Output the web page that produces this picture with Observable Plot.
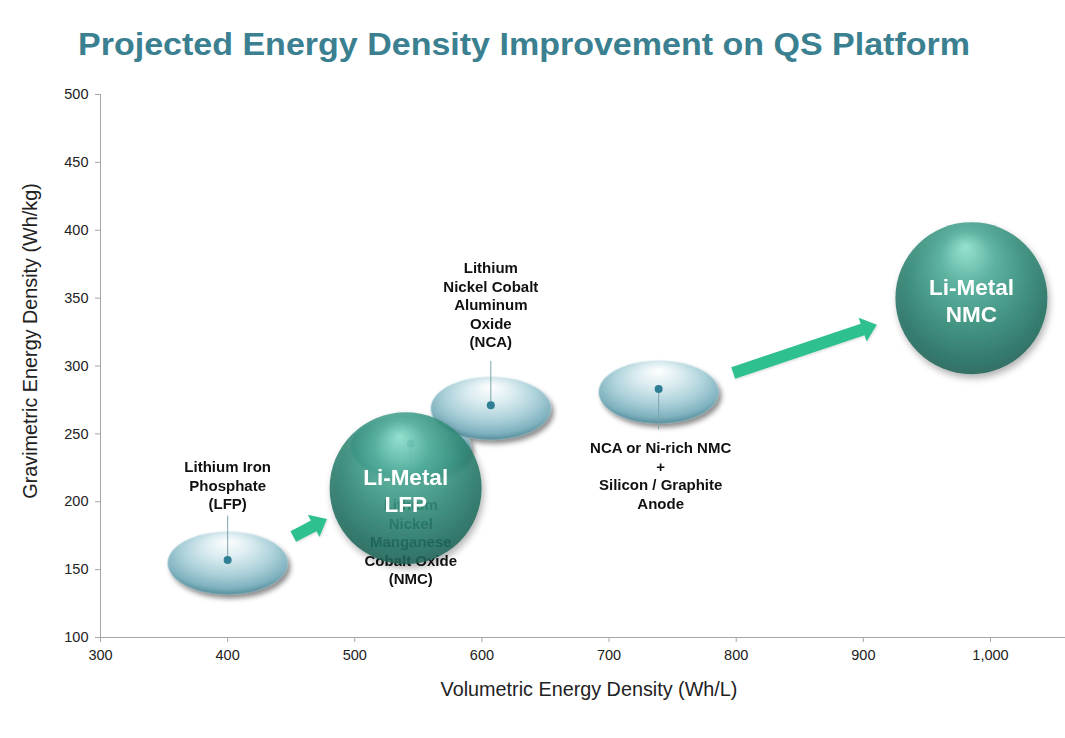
<!DOCTYPE html>
<html>
<head>
<meta charset="utf-8">
<script src="https://cdn.jsdelivr.net/npm/d3@7"></script>
<script src="https://cdn.jsdelivr.net/npm/@observablehq/plot@0.6"></script>
<style>
  html, body { margin: 0; padding: 0; background: #fff; }
  body { width: 1065px; height: 738px; position: relative; overflow: hidden; font-family: "Liberation Sans", Arial, sans-serif; }
  #title { position: absolute; left: 78px; top: 27px; font: bold 30.5px "Liberation Sans", Arial, sans-serif; color: #3a8090; white-space: nowrap; transform-origin: left top; }
  #chart { position: absolute; left: 0; top: 80px; }
</style>
</head>
<body>
<div id="title">Projected Energy Density Improvement on QS Platform</div>
<div id="chart"></div>
<script>
// ---- data ----
const xTicks = [300, 400, 500, 600, 700, 800, 900, 1000];
const yTicks = [100, 150, 200, 250, 300, 350, 400, 450, 500];
const xLabel = "Volumetric Energy Density (Wh/L)";
const yLabel = "Gravimetric Energy Density (Wh/kg)";

const chemistries = ["LFP", "NMC", "NCA", "NCA or Ni-rich NMC + Si/Graphite"];
const chemVolumetric = [400, 544, 607, 739];
const chemGravimetric = [157, 243, 271, 283];
const chemLabels = [
  "Lithium Iron\nPhosphate\n(LFP)",
  "Lithium\nNickel\nManganese\nCobalt Oxide\n(NMC)",
  "Lithium\nNickel Cobalt\nAluminum\nOxide\n(NCA)",
  "NCA or Ni-rich NMC\n+\nSilicon / Graphite\nAnode"
];

const liMetalLabels = ["Li-Metal\nLFP", "Li-Metal\nNMC"];
const liMetalVolumetric = [540, 985];
const liMetalGravimetric = [210, 350];

const arrowFromVolumetric = [452, 798];
const arrowFromGravimetric = [174, 294.5];
const arrowToVolumetric = [478.5, 911];
const arrowToGravimetric = [187, 330];

// ---- tables ----
const chem = chemistries.map((name, i) => ({name, x: chemVolumetric[i], y: chemGravimetric[i], label: chemLabels[i]}));
const liMetal = liMetalLabels.map((label, i) => ({label, x: liMetalVolumetric[i], y: liMetalGravimetric[i]}));
const arrows = arrowFromVolumetric.map((x1, i) => ({x1, y1: arrowFromGravimetric[i], x2: arrowToVolumetric[i], y2: arrowToGravimetric[i]}));

function ellipseSymbol(rx, ry) {
  const k = 0.5523;
  return {
    draw(ctx) {
      ctx.moveTo(-rx, 0);
      ctx.bezierCurveTo(-rx, -ry * k, -rx * k, -ry, 0, -ry);
      ctx.bezierCurveTo(rx * k, -ry, rx, -ry * k, rx, 0);
      ctx.bezierCurveTo(rx, ry * k, rx * k, ry, 0, ry);
      ctx.bezierCurveTo(-rx * k, ry, -rx, ry * k, -rx, 0);
      ctx.closePath();
    }
  };
}
const lineUp = {draw(ctx, l) { ctx.moveTo(0, 0); ctx.lineTo(0, -l); }};

function arrowsMark(index, scales) {
  const g = d3.create("svg:g").attr("fill", "#2fc18f").attr("filter", "url(#arrowShadow)");
  for (const a of arrows) {
    const x0 = scales.x(a.x1), y0 = scales.y(a.y1), x1 = scales.x(a.x2), y1 = scales.y(a.y2);
    const dx = x1 - x0, dy = y1 - y0, L = Math.hypot(dx, dy);
    const ux = dx / L, uy = dy / L, nx = -uy, ny = ux;
    const w = 6, hw = 12.5, hl = 15;
    const bx = x1 - ux * hl, by = y1 - uy * hl;
    const pts = [
      [x0 + nx * w, y0 + ny * w], [bx + nx * w, by + ny * w], [bx + nx * hw, by + ny * hw],
      [x1, y1], [bx - nx * hw, by - ny * hw], [bx - nx * w, by - ny * w], [x0 - nx * w, y0 - ny * w]
    ];
    g.append("path").attr("d", "M" + pts.map(p => p.join(",")).join("L") + "Z");
  }
  return g.node();
}

const textStyle = {fill: "#111", fontWeight: "bold", fontSize: 15, lineHeight: 1.23, lineAnchor: "middle"};

const plot = Plot.plot({
  width: 1065,
  height: 658,
  marginTop: 14,
  marginBottom: 101,
  marginLeft: 100,
  marginRight: 0,
  style: {fontFamily: "Liberation Sans, Arial, sans-serif", background: "#fff", overflow: "visible"},
  x: {domain: [300, 1059]},
  y: {domain: [100, 500]},
  marks: [
    Plot.axisY(yTicks, {tickSize: 5, tickPadding: 7, stroke: "#a6a6a6", fill: "#222", fontSize: 14.5, label: null}),
    Plot.axisX(xTicks, {tickSize: 5, tickPadding: 7, tickFormat: d3.format(","), stroke: "#a6a6a6", fill: "#222", fontSize: 14.5, label: null}),
    Plot.ruleX([300], {stroke: "#a6a6a6"}),
    Plot.ruleY([100], {stroke: "#a6a6a6"}),
    Plot.text([xLabel], {frameAnchor: "bottom", dy: 58, dx: 6, fontSize: 19.8, fill: "#222"}),
    Plot.text([yLabel], {frameAnchor: "left", textAnchor: "middle", rotate: -90, dx: -70, dy: -25, fontSize: 19.8, fill: "#222"}),
    // chemistry bubbles
    Plot.dot(chem, {x: "x", y: "y", dy: 3, symbol: ellipseSymbol(60, 31.5), fill: "url(#ellGrad)", stroke: "none", ariaDescription: "ellipses"}),
    Plot.vector(chem.filter((d, i) => i === 0 || i === 2), {x: "x", y: "y", length: 44, rotate: 0, anchor: "start", shape: lineUp, stroke: "#7fa3ad", strokeWidth: 1}),
    Plot.vector(chem.filter((d, i) => i === 1 || i === 3), {x: "x", y: "y", length: 40, rotate: 180, anchor: "start", shape: lineUp, stroke: "#7fa3ad", strokeWidth: 1}),
    Plot.dot(chem, {x: "x", y: "y", r: 4, fill: "#2e7f93"}),
    Plot.text([chem[0]], {x: "x", y: "y", text: "label", dy: -75.5, ...textStyle}),
    Plot.text([chem[1]], {x: "x", y: "y", text: "label", dy: 98, ...textStyle}),
    Plot.text([chem[2]], {x: "x", y: "y", text: "label", dy: -101, ...textStyle}),
    Plot.text([chem[3]], {x: "x", y: "y", text: "label", dy: 86, dx: 2, ...textStyle}),
    // Li-metal spheres
    Plot.dot(liMetal, {x: "x", y: "y", r: 76, fill: "url(#sphereGrad)", fillOpacity: 0.86, stroke: "none", ariaDescription: "spheres"}),
    Plot.text(liMetal, {x: "x", y: "y", text: "label", dy: 2, fill: "#fff", fontWeight: "bold", fontSize: 22.5, lineHeight: 1.18, lineAnchor: "middle"}),
    arrowsMark
  ]
});

const svg = d3.select(plot);
const defs = svg.insert("defs", ":first-child");
const eg = defs.append("radialGradient").attr("id", "ellGrad").attr("cx", 0.5).attr("cy", 0.4).attr("r", 0.62).attr("fx", 0.5).attr("fy", 0.15);
[[0, "#ffffff"], [0.3, "#dcedf1"], [0.62, "#acd1da"], [0.86, "#7fb2bf"], [1, "#4f8796"]].forEach(([o, c]) => eg.append("stop").attr("offset", o).attr("stop-color", c));
const sg = defs.append("radialGradient").attr("id", "sphereGrad").attr("cx", 0.5).attr("cy", 0.42).attr("r", 0.6).attr("fx", 0.46).attr("fy", 0.16);
[[0, "#8fe4d1"], [0.3, "#4eae99"], [0.68, "#2b8572"], [0.9, "#1f6c5e"], [1, "#1a5d52"]].forEach(([o, c]) => sg.append("stop").attr("offset", o).attr("stop-color", c));
function shadow(id, dx, dy, sd, op) {
  const f = defs.append("filter").attr("id", id).attr("x", "-30%").attr("y", "-30%").attr("width", "160%").attr("height", "170%");
  f.append("feDropShadow").attr("dx", dx).attr("dy", dy).attr("stdDeviation", sd).attr("flood-color", "#000").attr("flood-opacity", op);
}
shadow("ellShadow", 3, 4, 2.5, 0.45);
shadow("sphereShadow", 2, 4, 3.5, 0.35);
shadow("arrowShadow", 1, 1, 1, 0.15);
svg.selectAll('g[aria-description="ellipses"]').attr("filter", "url(#ellShadow)");
svg.selectAll('g[aria-description="spheres"]').attr("filter", "url(#sphereShadow)");

document.getElementById("chart").appendChild(plot);

// fit title width to reference
const t = document.getElementById("title");
const w = t.getBoundingClientRect().width;
t.style.transform = `scaleX(${892 / w})`;
</script>
</body>
</html>
